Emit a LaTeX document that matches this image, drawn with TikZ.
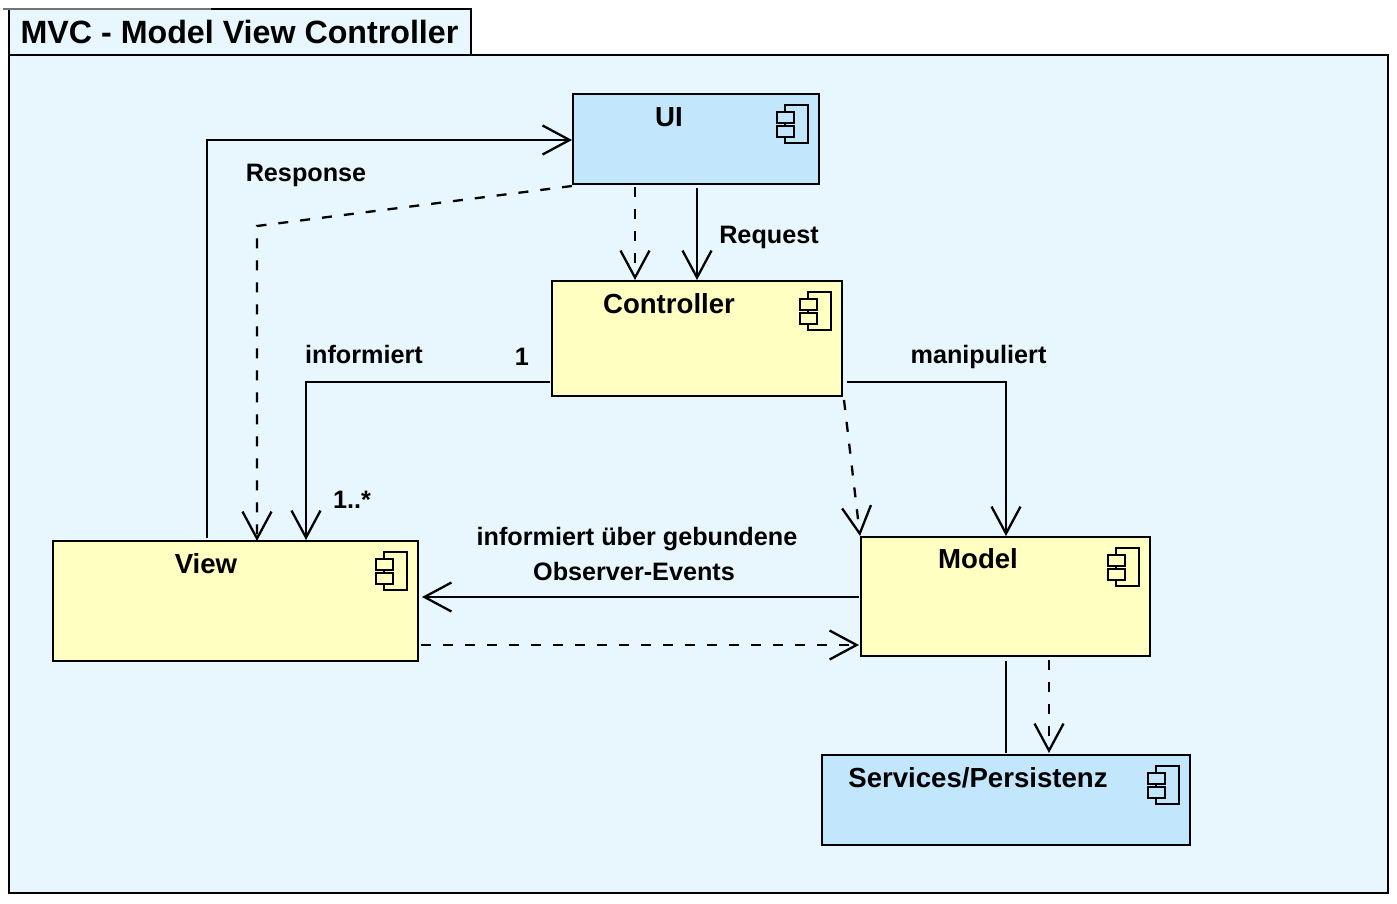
\documentclass[tikz,border=0pt]{standalone}
\usepackage{fontspec}
\setmainfont{Liberation Sans}
\usetikzlibrary{arrows.meta,calc}
\definecolor{pkgfill}{HTML}{E8F6FE}
\definecolor{bluefill}{HTML}{C2E6FB}
\definecolor{yellowfill}{HTML}{FFFFC2}
\colorlet{iconfill}{bluefill}
\tikzset{
  x=1pt,y=-1pt,
  outline/.style={draw=black,line width=2.4pt,outer sep=0pt,inner sep=0pt,anchor=north west},
  blueboxstyle/.style={outline,fill=bluefill},
  yellowboxstyle/.style={outline,fill=yellowfill},
  pkgstyle/.style={outline,fill=pkgfill},
  title/.style={inner sep=0pt,anchor=base,font=\fontsize{32.2}{36}\selectfont\bfseries},
  compname/.style={inner sep=0pt,anchor=base,font=\fontsize{27.6}{32}\selectfont\bfseries},
  lbl/.style={inner sep=0pt,anchor=base,font=\fontsize{25.2}{30}\selectfont\bfseries},
  link/.style={draw=black,line width=2.3pt,-{Straight Barb[length=27pt,width=29pt,line width=2.3pt]}},
  plain/.style={draw=black,line width=2.3pt},
  deplink/.style={link,dash pattern=on 10pt off 12pt},
  compicon/.pic={
    \draw[draw=black,line width=2.4pt] (-34,11) rectangle (-11,49);
    \draw[draw=black,fill=iconfill,line width=2.4pt] (-42,18) rectangle (-25,29);
    \draw[draw=black,fill=iconfill,line width=2.4pt] (-42,32) rectangle (-25,43);
  }
}
\begin{document}
\begin{tikzpicture}
\useasboundingbox (0,0) rectangle (1397,903);
% package
\node[pkgstyle,minimum width=462pt,minimum height=46pt] (tab) at (9,9) {};
\node[pkgstyle,minimum width=1379pt,minimum height=838pt] (pkg) at (9,55) {};
\draw[black!55,line width=1.5pt] (3,9) -- (211,9);
\node[title] (titletext) at (239.5,43) {MVC - Model View Controller};
% components
\node[blueboxstyle,minimum width=246pt,minimum height=90pt] (ui) at (573,94) {};
\node[yellowboxstyle,minimum width=290pt,minimum height=115pt] (ctrl) at (552,281) {};
\node[yellowboxstyle,minimum width=365pt,minimum height=120pt] (view) at (53,541) {};
\node[yellowboxstyle,minimum width=289pt,minimum height=119pt] (model) at (861,537) {};
\node[blueboxstyle,minimum width=368pt,minimum height=90pt] (serv) at (822,755) {};
\colorlet{iconfill}{bluefill}
\pic at (ui.north east) {compicon};
\pic at (serv.north east) {compicon};
\colorlet{iconfill}{yellowfill}
\pic at (ctrl.north east) {compicon};
\pic at (view.north east) {compicon};
\pic at (model.north east) {compicon};
% component names
\node[compname] (uitext) at (669,126) {UI};
\node[compname] (ctrltext) at (669,313) {Controller};
\node[compname] (viewtext) at (206,573) {View};
\node[compname] (modeltext) at (978,568) {Model};
\node[compname] (servtext) at (978,787) {Services/Persistenz};
% connectors
\draw[link] ($(view.north west)+(154,-3)$) |- ($(ui.north west)+(-1,46)$);
\draw[deplink] ($(ui.south west)+(-1,2)$) -- (257,226) -- ($(view.north west)+(204,0)$);
\draw[deplink] ($(ui.south west)+(62,3)$) -- ($(ctrl.north west)+(83,-1)$);
\draw[link] ($(ui.south west)+(124,4)$) -- ($(ctrl.north west)+(145,-1)$);
\draw[link] ($(ctrl.north west)+(-2,101)$) -| ($(view.north west)+(253,-1)$);
\draw[link] ($(ctrl.north east)+(5,101)$) -| ($(model.north west)+(145,-1)$);
\draw[deplink] ($(ctrl.south east)+(2,4)$) -- ($(model.north west)+(-1,-1)$);
\draw[link] ($(model.north west)+(-2,60)$) -- ($(view.north east)+(4,56)$);
\draw[deplink] ($(view.north east)+(3,104)$) -- ($(model.north west)+(-2,108)$);
\draw[plain] ($(model.south west)+(145,5)$) -- ($(serv.north west)+(184,-2)$);
\draw[deplink] ($(model.south west)+(188,4)$) -- ($(serv.north west)+(227,-2)$);
% labels
\node[lbl] (resp) at (306,181) {Response};
\node[lbl] (req) at (769,243) {Request};
\node[lbl] (inf) at (364,363) {informiert};
\node[lbl] (one) at (522,365) {1};
\node[lbl] (many) at (352,508) {1..*};
\node[lbl] (manip) at (978.5,363) {manipuliert};
\node[lbl] (obsa) at (637,545) {informiert über gebundene};
\node[lbl] (obsb) at (634,580) {Observer-Events};
\end{tikzpicture}
\end{document}
